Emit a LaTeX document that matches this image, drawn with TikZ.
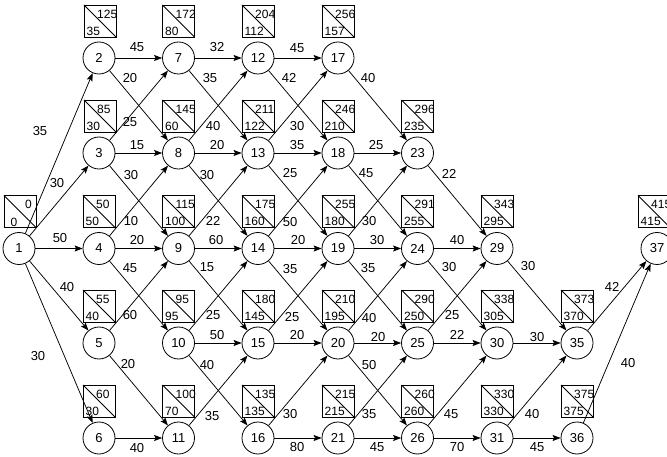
\documentclass[tikz,border=0pt]{standalone}
\usepackage{fontspec}
\setmainfont{Liberation Sans}
\usetikzlibrary{arrows.meta}
\newcommand\mybox[6]{%
  \node[bx] (b#1) at (#2+#6+16,#3-37) {};
  \draw[bxline] (b#1.north west) -- (b#1.south east);
  \node[num,anchor=west] (bt#1) at ([xshift=13pt,yshift=-9pt]b#1.north west) {#4};
  \node[num,anchor=west] (bb#1) at ([xshift=2.5pt,yshift=6pt]b#1.south west) {#5};
}
\begin{document}
\begin{tikzpicture}[x=1pt,y=-1pt,
  nd/.style={circle,draw,line width=0.8pt,minimum size=32pt,inner sep=0pt,font=\fontsize{13}{15}\selectfont},
  arr/.style={line width=0.75pt,-{Stealth[length=8pt,width=6pt,inset=1.5pt]}},
  lbl/.style={font=\fontsize{13}{15}\selectfont,inner sep=0pt},
  num/.style={font=\fontsize{12}{14}\selectfont,inner sep=0pt},
  bx/.style={draw,line width=0.8pt,minimum size=32pt,inner sep=0pt,outer sep=0pt},
  bxline/.style={line width=0.8pt}
]
\path[fill=white,use as bounding box] (0,0) rectangle (667,457);
\def\ca{19}\def\cb{99}\def\cc{178.5}\def\cd{258}\def\ce{338}
\def\cf{417.5}\def\cg{497}\def\ch{577}\def\ci{657}
\def\ra{58}\def\rb{153}\def\rc{248.5}\def\rd{343}\def\re{438}
% nodes
\node[nd] (n1) at (\ca,\rc) {1};
\node[nd] (n2) at (\cb,\ra) {2};
\node[nd] (n3) at (\cb,\rb) {3};
\node[nd] (n4) at (\cb,\rc) {4};
\node[nd] (n5) at (\cb,\rd) {5};
\node[nd] (n6) at (\cb,\re) {6};
\node[nd] (n7) at (\cc,\ra) {7};
\node[nd] (n8) at (\cc,\rb) {8};
\node[nd] (n9) at (\cc,\rc) {9};
\node[nd] (n10) at (\cc,\rd) {10};
\node[nd] (n11) at (\cc,\re) {11};
\node[nd] (n12) at (\cd,\ra) {12};
\node[nd] (n13) at (\cd,\rb) {13};
\node[nd] (n14) at (\cd,\rc) {14};
\node[nd] (n15) at (\cd,\rd) {15};
\node[nd] (n16) at (\cd,\re) {16};
\node[nd] (n17) at (\ce,\ra) {17};
\node[nd] (n18) at (\ce,\rb) {18};
\node[nd] (n19) at (\ce,\rc) {19};
\node[nd] (n20) at (\ce,\rd) {20};
\node[nd] (n21) at (\ce,\re) {21};
\node[nd] (n23) at (\cf,\rb) {23};
\node[nd] (n24) at (\cf,\rc) {24};
\node[nd] (n25) at (\cf,\rd) {25};
\node[nd] (n26) at (\cf,\re) {26};
\node[nd] (n29) at (\cg,\rc) {29};
\node[nd] (n30) at (\cg,\rd) {30};
\node[nd] (n31) at (\cg,\re) {31};
\node[nd] (n35) at (\ch,\rd) {35};
\node[nd] (n36) at (\ch,\re) {36};
\node[nd] (n37) at (\ci,\rc) {37};
% boxes
\node[bx] (b1) at (\ca-15+16,\rc-37) {};
\draw[bxline] (b1.north west) -- (b1.south east);
\node[num] (bt1) at ([xshift=24.5pt,yshift=-9pt]b1.north west) {0};
\node[num] (bb1) at ([xshift=10pt,yshift=5.5pt]b1.south west) {0};
\mybox{2}{\cb}{\ra}{125}{35}{-15}
\mybox{3}{\cb}{\rb}{85}{30}{-15}
\mybox{4}{\cb}{\rc}{50}{50}{-16}
\mybox{5}{\cb}{\rd}{55}{40}{-16}
\mybox{6}{\cb}{\re}{60}{30}{-16}
\mybox{7}{\cc}{\ra}{172}{80}{-16}
\mybox{8}{\cc}{\rb}{145}{60}{-16}
\mybox{9}{\cc}{\rc}{115}{100}{-16}
\mybox{10}{\cc}{\rd}{95}{95}{-16}
\mybox{11}{\cc}{\re}{100}{70}{-16}
\mybox{12}{\cd}{\ra}{204}{112}{-16}
\mybox{13}{\cd}{\rb}{211}{122}{-16}
\mybox{14}{\cd}{\rc}{175}{160}{-16}
\mybox{15}{\cd}{\rd}{180}{145}{-16}
\mybox{16}{\cd}{\re}{135}{135}{-16}
\mybox{17}{\ce}{\ra}{256}{157}{-16}
\mybox{18}{\ce}{\rb}{246}{210}{-16}
\mybox{19}{\ce}{\rc}{255}{180}{-16}
\mybox{20}{\ce}{\rd}{210}{195}{-16}
\mybox{21}{\ce}{\re}{215}{215}{-16}
\mybox{23}{\cf}{\rb}{296}{235}{-16}
\mybox{24}{\cf}{\rc}{291}{255}{-16}
\mybox{25}{\cf}{\rd}{290}{250}{-16}
\mybox{26}{\cf}{\re}{260}{260}{-16}
\mybox{29}{\cg}{\rc}{343}{295}{-16}
\mybox{30}{\cg}{\rd}{338}{305}{-16}
\mybox{31}{\cg}{\re}{330}{330}{-16}
\mybox{35}{\ch}{\rd}{373}{370}{-16}
\mybox{36}{\ch}{\re}{375}{375}{-16}
\mybox{37}{\ci}{\rc}{415}{415}{-19}
% edges
\draw[arr] (n1) -- (n2);  \node[lbl] (l1-2) at (40,131) {35};
\draw[arr] (n1) -- (n3);  \node[lbl] (l1-3) at (57,183) {30};
\draw[arr] (n1) -- (n4);  \node[lbl] (l1-4) at (60,238) {50};
\draw[arr] (n1) -- (n5);  \node[lbl] (l1-5) at (67,287) {40};
\draw[arr] (n1) -- (n6);  \node[lbl] (l1-6) at (38,356) {30};
\draw[arr] (n2) -- (n7);  \node[lbl] (l2-7) at (137,47) {45};
\draw[arr] (n2) -- (n8);  \node[lbl] (l2-8) at (130,78) {20};
\draw[arr] (n3) -- (n7);  \node[lbl] (l3-7) at (130,122) {25};
\draw[arr] (n3) -- (n8);  \node[lbl] (l3-8) at (137,145) {15};
\draw[arr] (n3) -- (n9);  \node[lbl] (l3-9) at (131,175) {30};
\draw[arr] (n4) -- (n8);  \node[lbl] (l4-8) at (131,221) {10};
\draw[arr] (n4) -- (n9);  \node[lbl] (l4-9) at (137,240) {20};
\draw[arr] (n4) -- (n10); \node[lbl] (l4-10) at (130,268) {45};
\draw[arr] (n5) -- (n9);  \node[lbl] (l5-9) at (130,315) {60};
\draw[arr] (n5) -- (n11); \node[lbl] (l5-11) at (128,364) {20};
\draw[arr] (n6) -- (n11); \node[lbl] (l6-11) at (137,448) {40};
\draw[arr] (n7) -- (n12); \node[lbl] (l7-12) at (217,47) {32};
\draw[arr] (n7) -- (n13); \node[lbl] (l7-13) at (210,78) {35};
\draw[arr] (n8) -- (n12); \node[lbl] (l8-12) at (213,126) {40};
\draw[arr] (n8) -- (n13); \node[lbl] (l8-13) at (217,145) {20};
\draw[arr] (n8) -- (n14); \node[lbl] (l8-14) at (207,175) {30};
\draw[arr] (n9) -- (n13); \node[lbl] (l9-13) at (213,221) {22};
\draw[arr] (n9) -- (n14); \node[lbl] (l9-14) at (216,240) {60};
\draw[arr] (n9) -- (n15); \node[lbl] (l9-15) at (207,267) {15};
\draw[arr] (n10) -- (n14); \node[lbl] (l10-14) at (213,315) {25};
\draw[arr] (n10) -- (n15); \node[lbl] (l10-15) at (217,335) {50};
\draw[arr] (n10) -- (n16); \node[lbl] (l10-16) at (207,365) {40};
\draw[arr] (n11) -- (n15); \node[lbl] (l11-15) at (212,416) {35};
\draw[arr] (n12) -- (n17); \node[lbl] (l12-17) at (297,48) {45};
\draw[arr] (n12) -- (n18); \node[lbl] (l12-18) at (289,78) {42};
\draw[arr] (n13) -- (n17); \node[lbl] (l13-17) at (297,126) {30};
\draw[arr] (n13) -- (n18); \node[lbl] (l13-18) at (297,145) {35};
\draw[arr] (n13) -- (n19); \node[lbl] (l13-19) at (290,173) {25};
\draw[arr] (n14) -- (n18); \node[lbl] (l14-18) at (290,222) {50};
\draw[arr] (n14) -- (n19); \node[lbl] (l14-19) at (298,240) {20};
\draw[arr] (n14) -- (n20); \node[lbl] (l14-20) at (290,269) {35};
\draw[arr] (n15) -- (n19); \node[lbl] (l15-19) at (292,317) {25};
\draw[arr] (n15) -- (n20); \node[lbl] (l15-20) at (297,335) {20};
\draw[arr] (n16) -- (n20); \node[lbl] (l16-20) at (290,414) {30};
\draw[arr] (n16) -- (n21); \node[lbl] (l16-21) at (297,447) {80};
\draw[arr] (n17) -- (n23); \node[lbl] (l17-23) at (368,78) {40};
\draw[arr] (n18) -- (n23); \node[lbl] (l18-23) at (376,145) {25};
\draw[arr] (n18) -- (n24); \node[lbl] (l18-24) at (366,173) {45};
\draw[arr] (n19) -- (n23); \node[lbl] (l19-23) at (369,221) {30};
\draw[arr] (n19) -- (n24); \node[lbl] (l19-24) at (377,240) {30};
\draw[arr] (n19) -- (n25); \node[lbl] (l19-25) at (368,268) {35};
\draw[arr] (n20) -- (n24); \node[lbl] (l20-24) at (369,318) {40};
\draw[arr] (n20) -- (n25); \node[lbl] (l20-25) at (378,337) {20};
\draw[arr] (n20) -- (n26); \node[lbl] (l20-26) at (369,365) {50};
\draw[arr] (n21) -- (n25); \node[lbl] (l21-25) at (369,414) {35};
\draw[arr] (n21) -- (n26); \node[lbl] (l21-26) at (377,447) {45};
\draw[arr] (n23) -- (n29); \node[lbl] (l23-29) at (449,174) {22};
\draw[arr] (n24) -- (n29); \node[lbl] (l24-29) at (457,240) {40};
\draw[arr] (n24) -- (n30); \node[lbl] (l24-30) at (449,267) {30};
\draw[arr] (n25) -- (n29); \node[lbl] (l25-29) at (452,315) {25};
\draw[arr] (n25) -- (n30); \node[lbl] (l25-30) at (457,335) {22};
\draw[arr] (n26) -- (n30); \node[lbl] (l26-30) at (451,414) {45};
\draw[arr] (n26) -- (n31); \node[lbl] (l26-31) at (457,447) {70};
\draw[arr] (n29) -- (n35); \node[lbl] (l29-35) at (528,266) {30};
\draw[arr] (n30) -- (n35); \node[lbl] (l30-35) at (537,337) {30};
\draw[arr] (n31) -- (n35); \node[lbl] (l31-35) at (532,414) {40};
\draw[arr] (n31) -- (n36); \node[lbl] (l31-36) at (537,447) {45};
\draw[arr] (n35) -- (n37); \node[lbl] (l35-37) at (612,287) {42};
\draw[arr] (n36) -- (n37); \node[lbl] (l36-37) at (628,363) {40};
\end{tikzpicture}
\end{document}
